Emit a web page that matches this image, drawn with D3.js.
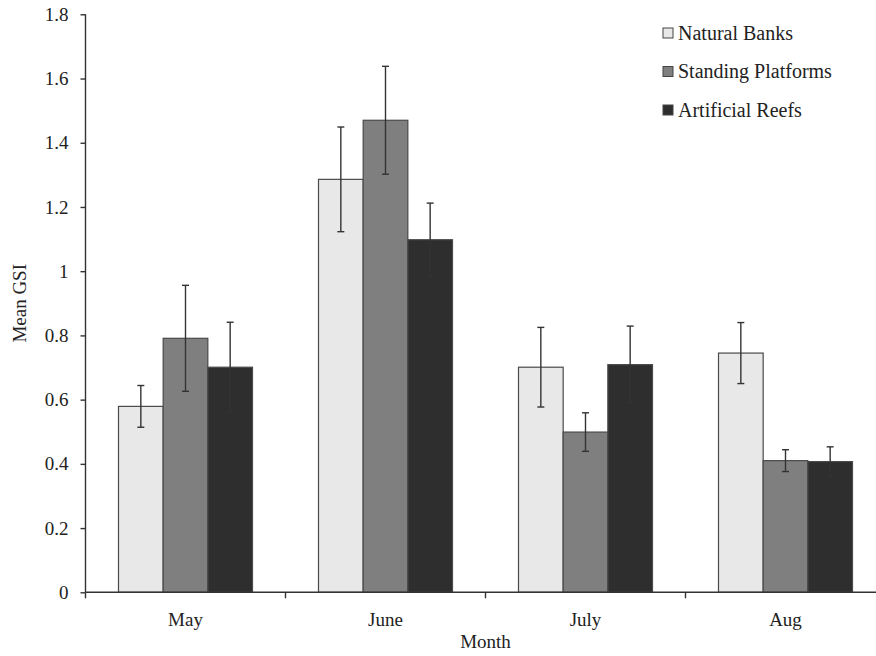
<!DOCTYPE html>
<html>
<head>
<meta charset="utf-8">
<script src="https://cdn.jsdelivr.net/npm/d3@7"></script>
<style>
  body { margin: 0; background: #fff; }
  text { font-family: "Liberation Serif", "DejaVu Serif", serif; fill: #222; }
</style>
</head>
<body>
<div id="chart"></div>
<script>
var months = ["May", "June", "July", "Aug"];
var sites = ["Natural Banks", "Standing Platforms", "Artificial Reefs"];
var siteColors = ["#e8e8e8", "#7f7f7f", "#2e2e2e"];

// mean GSI per month, one array per site
var naturalBanks = [0.579, 1.286, 0.701, 0.745];
var standingPlatforms = [0.791, 1.470, 0.499, 0.410];
var artificialReefs = [0.701, 1.098, 0.709, 0.407];

// error bar half widths
var naturalErr = [0.065, 0.163, 0.124, 0.095];
var standingErr = [0.165, 0.168, 0.060, 0.034];
var artificialErr = [0.140, 0.114, 0.120, 0.046];

var yTicks = [0, 0.2, 0.4, 0.6, 0.8, 1, 1.2, 1.4, 1.6, 1.8];
var yTickLabels = ["0", "0.2", "0.4", "0.6", "0.8", "1", "1.2", "1.4", "1.6", "1.8"];

var means = [naturalBanks, standingPlatforms, artificialReefs];
var errs = [naturalErr, standingErr, artificialErr];

var W = 876, H = 656;
var mLeft = 85.5, mRight = 885.5, mTop = 14.3, mBottom = 592.3;

var svg = d3.select("#chart").append("svg")
    .attr("width", W)
    .attr("height", H);

var x = d3.scaleBand()
    .domain(months)
    .range([mLeft, mRight]);

var x1 = d3.scaleBand()
    .domain(sites)
    .range([0, 134])
    .padding(0);

var y = d3.scaleLinear()
    .domain([0, 1.8])
    .range([mBottom, mTop]);

var rows = [];
months.forEach(function(m, i) {
  sites.forEach(function(s, j) {
    rows.push({ month: m, site: s, k: j, v: means[j][i], e: errs[j][i] });
  });
});

var groupOffset = (x.bandwidth() - x1.range()[1]) / 2;

// bars
svg.append("g").selectAll("rect")
  .data(rows)
  .enter().append("rect")
    .attr("x", function(d) { return x(d.month) + groupOffset + x1(d.site); })
    .attr("y", function(d) { return y(d.v); })
    .attr("width", x1.bandwidth())
    .attr("height", function(d) { return y(0) - y(d.v); })
    .style("fill", function(d) { return siteColors[d.k]; })
    .style("stroke", "#4a4a4a")
    .style("stroke-width", 1.2);

// error bars
var eb = svg.append("g")
    .style("stroke", "#333")
    .style("stroke-width", 1.4);

rows.forEach(function(d) {
  var cx = x(d.month) + groupOffset + x1(d.site) + x1.bandwidth() / 2;
  eb.append("line")
    .attr("x1", cx).attr("x2", cx)
    .attr("y1", y(d.v + d.e)).attr("y2", y(d.v - d.e));
  [d.v + d.e, d.v - d.e].forEach(function(val) {
    eb.append("line")
      .attr("x1", cx - 3.5).attr("x2", cx + 3.5)
      .attr("y1", y(val)).attr("y2", y(val));
  });
});

// y axis
var yAxis = d3.axisLeft(y)
    .tickValues(yTicks)
    .tickFormat(function(d, i) { return yTickLabels[i]; })
    .tickSize(5)
    .tickPadding(12);

var gy = svg.append("g")
    .attr("transform", "translate(" + mLeft + ",0)")
    .call(yAxis);
gy.select(".domain").attr("d", "M0," + mTop + "V" + mBottom);

// x axis
var xAxis = d3.axisBottom(x)
    .tickSize(0)
    .tickPadding(20);

var gx = svg.append("g")
    .attr("transform", "translate(0," + mBottom + ")")
    .call(xAxis);
gx.select(".domain").attr("d", "M" + mLeft + ",0H" + mRight);

// x ticks sit on group boundaries
gx.selectAll(".bound")
  .data(months)
  .enter().append("line")
    .attr("x1", function(d) { return x(d); })
    .attr("x2", function(d) { return x(d); })
    .attr("y1", 0).attr("y2", 6)
    .style("stroke", "#333")
    .style("stroke-width", 1.4);

svg.selectAll(".domain, .tick line")
    .style("stroke", "#333")
    .style("stroke-width", 1.4);

svg.selectAll(".tick text")
    .style("font-family", "Liberation Serif, serif")
    .style("font-size", "19px")
    .style("fill", "#222");

// axis titles
svg.append("text")
    .attr("x", x(months[1]) + x.bandwidth())
    .attr("y", 648)
    .attr("text-anchor", "middle")
    .style("font-size", "19px")
    .text("Month");

svg.append("text")
    .attr("transform", "translate(26," + ((mTop + mBottom) / 2) + ") rotate(-90)")
    .attr("text-anchor", "middle")
    .style("font-size", "19px")
    .text("Mean GSI");

// legend
var legend = svg.append("g")
    .attr("transform", "translate(663,33)");

sites.forEach(function(s, i) {
  var row = legend.append("g")
      .attr("transform", "translate(0," + (i * 38.5) + ")");
  row.append("rect")
      .attr("x", 0).attr("y", -5)
      .attr("width", 10).attr("height", 10)
      .style("fill", siteColors[i])
      .style("stroke", "#444")
      .style("stroke-width", 1);
  row.append("text")
      .attr("x", 15)
      .attr("y", 6.5)
      .style("font-size", "20px")
      .text(s);
});
</script>
</body>
</html>
